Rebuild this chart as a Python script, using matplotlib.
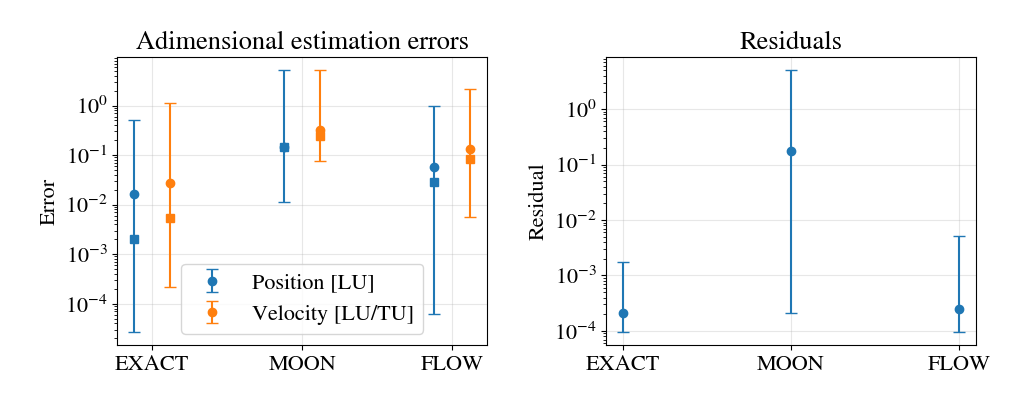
import matplotlib.pyplot as plt
import numpy as np

plt.rcParams['font.family'] = ['STIXGeneral', 'DejaVu Serif']
plt.rcParams['mathtext.fontset'] = 'stix'

cases = ['EXACT', 'MOON', 'FLOW']

# position errors
pos_mean = [0.0164, 0.145, 0.0565]
pos_med = [0.00204, 0.145, 0.028]
pos_low = [2.7e-5, 0.0112, 6.2e-5]
pos_high = [0.506, 5.1, 1.0]

# velocity errors
vel_mean = [0.027, 0.32, 0.13]
vel_med = [0.0053, 0.24, 0.082]
vel_low = [2.2e-4, 0.075, 0.0056]
vel_high = [1.13, 5.1, 2.2]

# residuals
res_mean = [2.1e-4, 0.175, 2.5e-4]
res_low = [9.6e-5, 2.1e-4, 9.6e-5]
res_high = [1.75e-3, 4.97, 5.1e-3]

x = np.arange(len(cases))
off = 0.12

fig = plt.figure(figsize=(10.23, 4.07), dpi=100)
ax1 = fig.add_axes([0.1147, 0.1523, 0.3616, 0.7067])
ax2 = fig.add_axes([0.5927, 0.1523, 0.3613, 0.7067])

pm = np.array(pos_mean)
vm = np.array(vel_mean)
ax1.errorbar(x - off, pm, yerr=[pm - np.array(pos_low), np.array(pos_high) - pm],
             fmt='o', color='tab:blue', capsize=4, label='Position [LU]')
ax1.errorbar(x + off, vm, yerr=[vm - np.array(vel_low), np.array(vel_high) - vm],
             fmt='o', color='tab:orange', capsize=4, label='Velocity [LU/TU]')
ax1.plot(x - off, pos_med, 's', color='tab:blue')
ax1.plot(x + off, vel_med, 's', color='tab:orange')
ax1.set_yscale('log')
ax1.set_xticks(x)
ax1.set_xticklabels(cases, fontsize=16)
ax1.tick_params(axis='y', labelsize=16)
ax1.set_ylabel('Error', fontsize=16)
ax1.set_title('Adimensional estimation errors', fontsize=19)
ax1.grid(True, alpha=0.3)
ax1.legend(loc='lower center', fontsize=16)

rm = np.array(res_mean)
ax2.errorbar(x, rm, yerr=[rm - np.array(res_low), np.array(res_high) - rm],
             fmt='o', color='tab:blue', capsize=4)
ax2.set_yscale('log')
ax2.set_xticks(x)
ax2.set_xticklabels(cases, fontsize=16)
ax2.tick_params(axis='y', labelsize=16)
ax2.set_ylabel('Residual', fontsize=16)
ax2.set_title('Residuals', fontsize=19)
ax2.grid(True, alpha=0.3)

fig.savefig('out.png', dpi=100)
